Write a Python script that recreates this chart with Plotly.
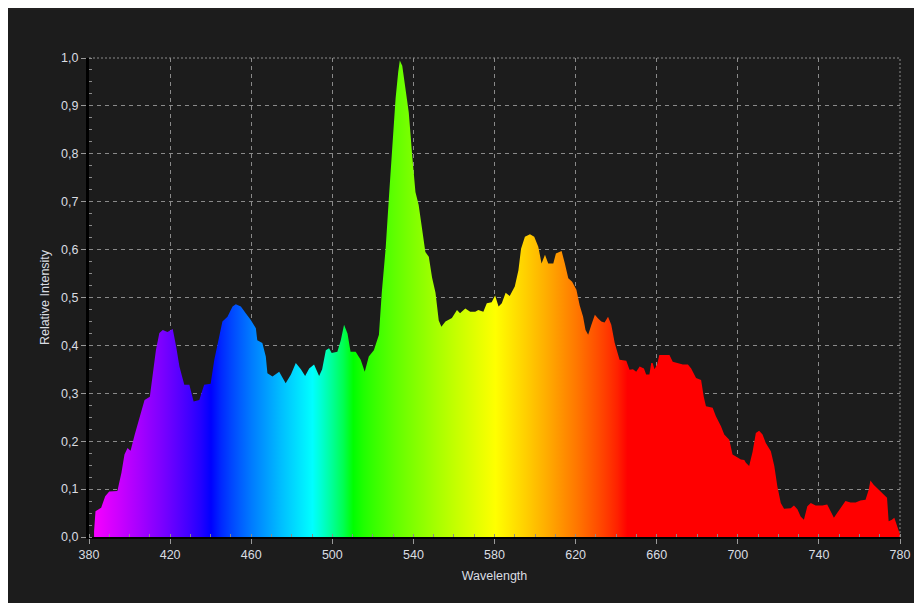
import plotly.graph_objects as go

# ---- data ----
wavelength = [
    382.5, 383.2, 386, 388, 390, 394, 396, 397.5, 399, 400.5, 402.5, 405, 407.4, 410, 411.5, 413,
    414.7, 416.4, 418.7, 421.3, 423, 424.6, 427, 429.5, 431.6, 434.4, 436.8, 440, 441.8, 444.2,
    445.8, 448.3, 450.8, 452.4, 454.9, 457.3, 459.8, 462.3, 463, 465.5, 467.2, 468, 470.5, 473.8,
    476.3, 477, 479.6, 482, 484.5, 486.6, 488.6, 491, 493.5, 495, 496.8, 498.4, 499.7, 502.5,
    504.2, 505.8, 507.5, 509, 511.5, 514, 516, 518, 520.5, 523, 524.4, 526.3, 527.9, 529.5,
    531.2, 532.5, 533.3, 534.5, 536, 537.7, 539.4, 541, 542.6, 544.3, 545.9, 547.6, 549.2,
    550.9, 552.5, 553.8, 555.8, 559, 561.5, 563, 565.6, 568, 570.5, 572, 574.5, 576.2, 578.6,
    580.3, 582, 583.6, 585.5, 587.5, 590, 591.8, 593.1, 595, 597.5, 599.6, 601.6, 603.2, 604.9,
    606.5, 609, 610.3, 613.1, 614.7, 616.4, 618.3, 620.4, 622, 623.7, 624.9, 626.2, 627.8,
    629.5, 631.1, 632.7, 634.3, 636, 637.6, 639.3, 641, 641.7, 645, 646.6, 648.3, 649.9, 651.6,
    653.7, 654.8, 656.4, 657.3, 658, 658.9, 660.2, 661.3, 663.8, 666.3, 667.9, 670.4, 672.9,
    675.4, 677, 679.4, 681.9, 683.2, 684.3, 687.6, 689.2, 691.7, 693.3, 695.8, 697.4, 699.9,
    701.5, 703.2, 704, 705.6, 707.3, 708.9, 710.5, 712.2, 713.8, 716.3, 718, 719.5, 721.2,
    722.8, 726.1, 727.7, 729.4, 731, 732.6, 734.3, 736, 738.4, 741.7, 744.1, 745.8, 747.4, 749,
    750.7, 753.1, 755.6, 758.1, 760.5, 763, 764.6, 765.4, 767, 769.5, 772, 773.6, 774.4, 776,
    777.2, 778.5, 780,
]
intensity = [
    0.012, 0.054, 0.061, 0.085, 0.095, 0.096, 0.134, 0.172, 0.186, 0.18, 0.213, 0.249, 0.286, 0.293, 0.343, 0.39,
    0.426, 0.432, 0.428, 0.434, 0.397, 0.356, 0.318, 0.318, 0.283, 0.286, 0.318, 0.32, 0.37, 0.418,
    0.45, 0.46, 0.481, 0.486, 0.481, 0.467, 0.453, 0.436, 0.411, 0.405, 0.377, 0.342, 0.335, 0.345,
    0.328, 0.321, 0.339, 0.363, 0.35, 0.336, 0.352, 0.36, 0.336, 0.35, 0.39, 0.394, 0.384, 0.387,
    0.411, 0.443, 0.425, 0.387, 0.387, 0.37, 0.345, 0.377, 0.39, 0.422, 0.51, 0.602, 0.707, 0.818,
    0.915, 0.97, 0.995, 0.984, 0.936, 0.887, 0.797, 0.72, 0.693, 0.637, 0.595, 0.585, 0.542,
    0.51, 0.452, 0.439, 0.45, 0.457, 0.474, 0.467, 0.477, 0.47, 0.47, 0.474, 0.47, 0.488, 0.49,
    0.504, 0.481, 0.488, 0.51, 0.503, 0.523, 0.557, 0.602, 0.627, 0.632, 0.627, 0.606, 0.571, 0.589,
    0.571, 0.571, 0.592, 0.597, 0.571, 0.54, 0.533, 0.516, 0.484, 0.46, 0.432, 0.422, 0.443,
    0.464, 0.456, 0.45, 0.448, 0.46, 0.443, 0.405, 0.38, 0.37, 0.368, 0.349, 0.35, 0.345, 0.356,
    0.352, 0.339, 0.339, 0.363, 0.363, 0.35, 0.36, 0.38, 0.38, 0.38, 0.366, 0.363, 0.36,
    0.36, 0.352, 0.332, 0.328, 0.293, 0.273, 0.27, 0.252, 0.231, 0.214, 0.203, 0.172, 0.166,
    0.162, 0.161, 0.155, 0.148, 0.178, 0.217, 0.222, 0.214, 0.196, 0.179, 0.148, 0.106, 0.071,
    0.059, 0.06, 0.066, 0.058, 0.043, 0.036, 0.064, 0.071, 0.066, 0.066, 0.068, 0.054, 0.04, 0.05,
    0.06, 0.075, 0.072, 0.072, 0.076, 0.078, 0.099, 0.118, 0.109, 0.099, 0.089, 0.082, 0.033, 0.036,
    0.04, 0.023, 0.005,
]
x_ticks = [380, 420, 460, 500, 540, 580, 620, 660, 700, 740, 780]
y_ticks = [0.0, 0.1, 0.2, 0.3, 0.4, 0.5, 0.6, 0.7, 0.8, 0.9, 1.0]
WL_MIN, WL_MAX = 380, 780


def wl_rgb(w, gamma=0.8):
    if w < 440:
        r, g, b = (440 - w) / 60, 0.0, 1.0
    elif w < 490:
        r, g, b = 0.0, (w - 440) / 50, 1.0
    elif w < 510:
        r, g, b = 0.0, 1.0, (510 - w) / 20
    elif w < 580:
        r, g, b = (w - 510) / 70, 1.0, 0.0
    elif w < 645:
        r, g, b = 1.0, (645 - w) / 65, 0.0
    else:
        r, g, b = 1.0, 0.0, 0.0
    c = [int(round(255 * (v ** gamma if v > 0 else 0))) for v in (r, g, b)]
    return f"rgb({c[0]},{c[1]},{c[2]})"


colorscale = []
for w in range(WL_MIN, WL_MAX + 1, 5):
    colorscale.append([(w - WL_MIN) / (WL_MAX - WL_MIN), wl_rgb(w)])

BG = "#1c1c1c"
GRID = "#8a8a8a"
TXT = "#dadde2"
FONT = "Liberation Sans, Arial, sans-serif"
FS = 12.5

fig = go.Figure()
fig.add_trace(go.Scatter(
    x=wavelength, y=intensity, mode="lines", fill="tozeroy",
    line=dict(width=0, color="rgba(0,0,0,0)"),
    fillgradient=dict(type="horizontal", colorscale=colorscale, start=WL_MIN, stop=WL_MAX),
    hoverinfo="skip", showlegend=False,
))

axis_common = dict(
    showgrid=True, gridcolor=GRID, griddash="4px,4px", gridwidth=1,
    showline=True, linecolor="#000000",
    ticks="outside", ticklen=5, tickcolor="#9a9a9a", tickwidth=1,
    tickfont=dict(family=FONT, size=FS, color=TXT),
    zeroline=False,
)

fig.update_xaxes(
    **axis_common, range=[WL_MIN, WL_MAX], tickvals=x_ticks, linewidth=2,
    title=dict(text="Wavelength", font=dict(family=FONT, size=FS, color=TXT), standoff=10),
    minor=dict(dtick=10, tick0=380, ticks="inside", ticklen=3, tickcolor="#8a8a8a", showgrid=False),
)
fig.update_yaxes(
    **axis_common, range=[0, 1], tickvals=y_ticks, tickformat=".1f", linewidth=3,
    title=dict(text="Relative Intensity", font=dict(family=FONT, size=FS, color=TXT), standoff=9),
    minor=dict(dtick=0.025, tick0=0, ticks="inside", ticklen=3, tickcolor="#8a8a8a", showgrid=False),
)

# page body has an 8px margin; figure is sized to fill the rest of the window
L, R, T, B = 81, 20, 50, 66
W, H = 914, 595
pw, ph = W - L - R, H - T - B

shapes = [
    # remainder of the top title strip
    dict(type="rect", xref="paper", yref="paper", x0=-L / pw, x1=1 + R / pw,
         y0=1 + (T - 2) / ph, y1=1 + T / ph, fillcolor="#232122", line=dict(width=0), layer="below"),
    # dotted top and right frame
    dict(type="line", xref="paper", yref="paper", x0=0, x1=1, y0=1, y1=1,
         line=dict(color=GRID, width=1, dash="2px,2px")),
    dict(type="line", xref="paper", yref="paper", x0=1, x1=1, y0=0, y1=1,
         line=dict(color=GRID, width=1, dash="2px,2px")),
]

fig.update_layout(
    width=W, height=H,
    margin=dict(l=L, r=R, t=T, b=B, pad=0),
    paper_bgcolor=BG, plot_bgcolor=BG,
    separators=",.",
    font=dict(family=FONT, size=FS, color=TXT),
    shapes=shapes,
    showlegend=False,
)

fig.write_html("out.html")
